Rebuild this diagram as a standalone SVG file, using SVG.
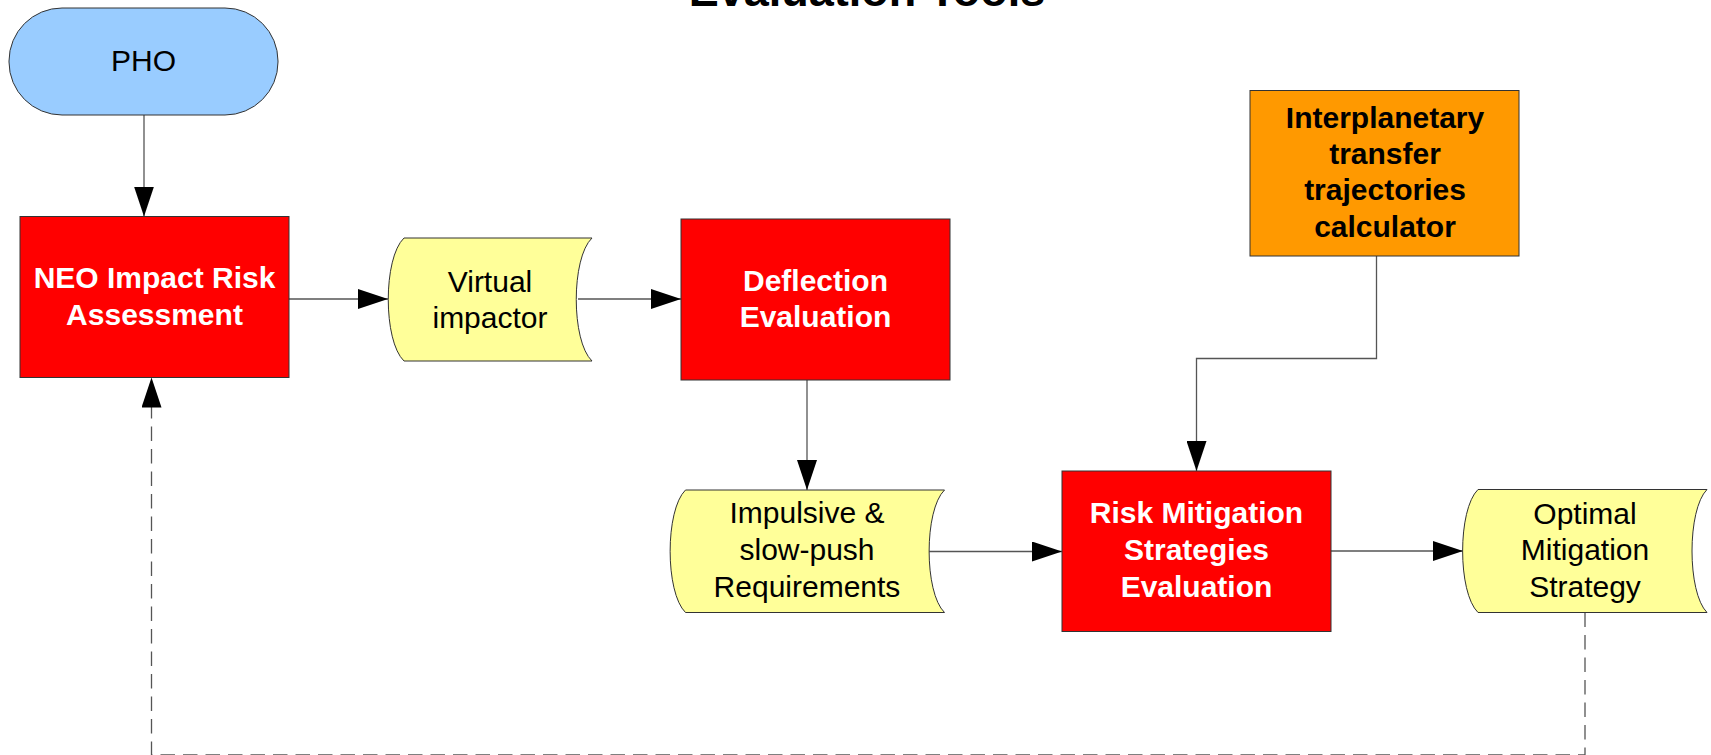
<svg xmlns="http://www.w3.org/2000/svg" width="1711" height="755" viewBox="0 0 1711 755">
<style>
.t{font-family:"Liberation Sans",Arial,sans-serif;font-size:30px;text-anchor:middle}
.b{font-weight:bold}
.w{fill:#ffffff}
.k{fill:#000000}
.box{stroke:#333333;stroke-width:1}
.red{fill:#ff0000}
.yel{fill:#ffff99}
.conn{fill:none;stroke:#555555;stroke-width:1.3}
.dash{fill:none;stroke:#555555;stroke-width:1.3;stroke-dasharray:14.5 8}
</style>
<defs>
<marker id="arr" markerUnits="userSpaceOnUse" viewBox="0 0 30 20" refX="30" refY="10" markerWidth="30" markerHeight="20" orient="auto">
<path d="M0,0 L30,10 L0,20 Z" fill="#000"/>
</marker>
</defs>
<rect width="1711" height="755" fill="#ffffff"/>
<text class="t b k" x="867" y="6" style="font-size:45px">Evaluation Tools</text>
<g id="connectors">
<path class="conn" d="M144,115 V216.5" marker-end="url(#arr)"/>
<path class="conn" d="M289,299 H388" marker-end="url(#arr)"/>
<path class="conn" d="M578,299 H681" marker-end="url(#arr)"/>
<path class="conn" d="M807,380 V490" marker-end="url(#arr)"/>
<path class="conn" d="M929,551.5 H1062" marker-end="url(#arr)"/>
<path class="conn" d="M1376.5,256 V358.5 H1196.5 V471" marker-end="url(#arr)"/>
<path class="conn" d="M1331,551 H1463" marker-end="url(#arr)"/>
<path class="dash" d="M1585,612.5 V755 H151.5 V377.5" marker-end="url(#arr)"/>
</g>
<g id="pho">
<rect class="box" x="9" y="8" width="269" height="107" rx="53" ry="53" fill="#99ccff"/>
<text class="t k" x="143.5" y="71">PHO</text>
</g>
<g id="neo">
<rect class="box red" x="20" y="216.5" width="269" height="161"/>
<text class="t b w" x="154.5" y="287.5">NEO Impact Risk</text>
<text class="t b w" x="154.5" y="324.5">Assessment</text>
</g>
<g id="virtual">
<path class="box yel" d="M404,238 H592 C571,258 571,341 592,361 H404 C383,341 383,258 404,238 Z"/>
<text class="t k" x="490" y="291.5">Virtual</text>
<text class="t k" x="490" y="328">impactor</text>
</g>
<g id="deflection">
<rect class="box red" x="681" y="219" width="269" height="161"/>
<text class="t b w" x="815.5" y="290.5">Deflection</text>
<text class="t b w" x="815.5" y="327">Evaluation</text>
</g>
<g id="impulsive">
<path class="box yel" d="M685.5,490 H944.5 C924,510 924,592.5 944.5,612.5 H685.5 C665,592.5 665,510 685.5,490 Z"/>
<text class="t k" x="807" y="523">Impulsive &amp;</text>
<text class="t k" x="807" y="560">slow-push</text>
<text class="t k" x="807" y="597">Requirements</text>
</g>
<g id="interplanetary">
<rect class="box" x="1250" y="90.5" width="269" height="165.5" fill="#ff9900"/>
<text class="t b k" x="1385" y="127.5">Interplanetary</text>
<text class="t b k" x="1385" y="164">transfer</text>
<text class="t b k" x="1385" y="200">trajectories</text>
<text class="t b k" x="1385" y="236.5">calculator</text>
</g>
<g id="risk">
<rect class="box red" x="1062" y="471" width="269" height="160.5"/>
<text class="t b w" x="1196.5" y="523">Risk Mitigation</text>
<text class="t b w" x="1196.5" y="560">Strategies</text>
<text class="t b w" x="1196.5" y="597">Evaluation</text>
</g>
<g id="optimal">
<path class="box yel" d="M1478,489.5 H1707 C1687,509.5 1687,592.5 1707,612.5 H1478 C1457.5,592.5 1457.5,509.5 1478,489.5 Z"/>
<text class="t k" x="1585" y="523.5">Optimal</text>
<text class="t k" x="1585" y="560">Mitigation</text>
<text class="t k" x="1585" y="596.5">Strategy</text>
</g>
</svg>
